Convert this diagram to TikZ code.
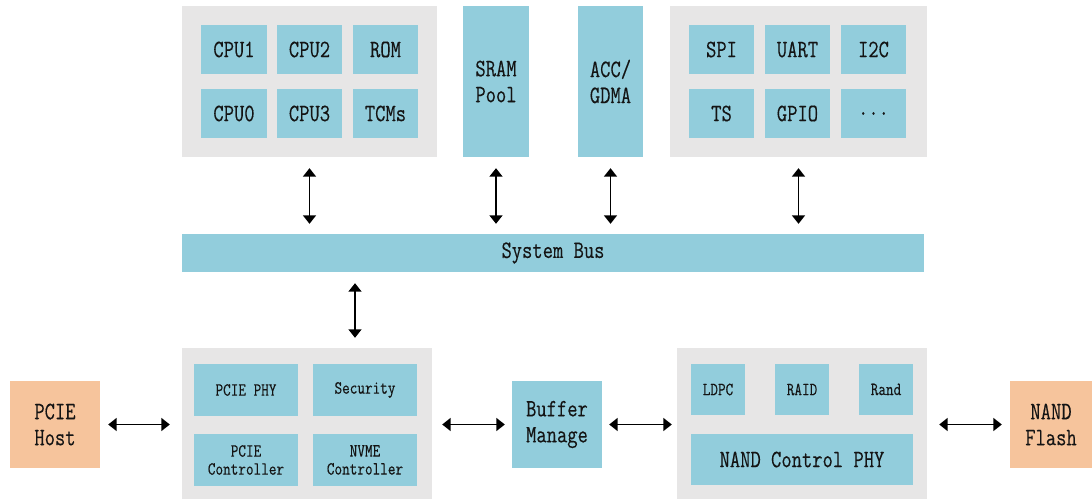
\documentclass[tikz,border=0pt]{standalone}
\usepackage{fontspec}
\setmonofont{Latin Modern Mono}[FakeStretch=0.8, FakeBold=0.3]
\usetikzlibrary{arrows.meta}
\definecolor{modgray}{HTML}{E7E6E6}
\definecolor{blockblue}{HTML}{92CDDC}
\definecolor{hostorange}{HTML}{F6C49C}
\definecolor{inkblack}{HTML}{141414}
\tikzset{
  sz/.style 2 args={minimum width=#1pt, minimum height=#2pt},
  panel/.style={fill=modgray, draw=none, inner sep=0pt},
  blk/.style={fill=blockblue, draw=none, inner sep=0pt, align=center, text=inkblack},
  ext/.style={fill=hostorange, draw=none, inner sep=0pt, align=center, text=inkblack},
  bigtxt/.style={font=\ttfamily\fontsize{25}{26}\selectfont},
  smalltxt/.style={font=\ttfamily\fontsize{18.5}{18}\selectfont},
  biarrow/.style={{Triangle[length=8.5pt,width=13pt]}-{Triangle[length=8.5pt,width=13pt]}, line width=1.8pt, draw=black},
}
\begin{document}
\begin{tikzpicture}[x=1pt,y=-1pt]
\useasboundingbox (0,0) rectangle (1092,500);

% processor cluster
\node[panel, sz={255}{151}] (cpus) at (309.5,81.5) {};
\node[blk, bigtxt, sz={66}{49}] (cpu1) at (234,49.5) {CPU1};
\node[blk, bigtxt, sz={65}{49}] (cpu2) at (309.5,49.5) {CPU2};
\node[blk, bigtxt, sz={65}{49}] (rom) at (385.5,49.5) {ROM};
\node[blk, bigtxt, sz={66}{49}] (cpu0) at (234,113.5) {CPU0};
\node[blk, bigtxt, sz={65}{49}] (cpu3) at (309.5,113.5) {CPU3};
\node[blk, bigtxt, sz={65}{49}] (tcms) at (385.5,113.5) {TCMs};

% memory and DMA
\node[blk, bigtxt, sz={66}{151}] (sram) at (496,81.5) {SRAM\\Pool};
\node[blk, bigtxt, sz={65}{151}] (acc) at (610.5,81.5) {ACC/\\GDMA};

% peripherals
\node[panel, sz={257}{151}] (peri) at (798.5,81.5) {};
\node[blk, bigtxt, sz={65}{49}] (spi) at (721.5,49.5) {SPI};
\node[blk, bigtxt, sz={65}{49}] (uart) at (797.5,49.5) {UART};
\node[blk, bigtxt, sz={65}{49}] (i2c) at (873.5,49.5) {I2C};
\node[blk, bigtxt, sz={65}{49}] (ts) at (721.5,113.5) {TS};
\node[blk, bigtxt, sz={65}{49}] (gpio) at (797.5,113.5) {GPIO};
\node[blk, bigtxt, sz={65}{49}] (more) at (873.5,113.5) {...};

% system bus
\node[blk, bigtxt, sz={742}{38}] (bus) at (553,253) {System Bus};

% host interface
\node[ext, bigtxt, sz={90}{87}] (host) at (55,424.5) {PCIE\\Host};
\node[panel, sz={250}{151}] (front) at (307,423.5) {};
\node[blk, smalltxt, sz={104}{52}] (pciephy) at (246,390) {PCIE PHY};
\node[blk, smalltxt, sz={104}{52}] (sec) at (365,390) {Security};
\node[blk, smalltxt, sz={104}{52}] (pciectl) at (246,460) {PCIE\\Controller};
\node[blk, smalltxt, sz={104}{52}] (nvme) at (365,460) {NVME\\Controller};

% buffer
\node[blk, bigtxt, sz={90}{87}] (buf) at (557,424.5) {Buffer\\Manage};

% flash back end
\node[panel, sz={250}{151}] (back) at (802,423.5) {};
\node[blk, smalltxt, sz={54}{51}] (ldpc) at (718,389.5) {LDPC};
\node[blk, smalltxt, sz={54}{51}] (raid) at (802,389.5) {RAID};
\node[blk, smalltxt, sz={54}{51}] (rand) at (886,389.5) {Rand};
\node[blk, bigtxt, sz={222}{51}] (nandphy) at (802,459.5) {NAND Control PHY};
\node[ext, bigtxt, sz={82}{87}] (flash) at (1051,424.5) {NAND\\Flash};

% bus connections
\draw[biarrow, shorten <=11pt, shorten >=10pt] (cpus.south) -- (bus.north -| cpus.south);
\draw[biarrow, shorten <=11pt, shorten >=10pt] (sram.south) -- (bus.north -| sram.south);
\draw[biarrow, shorten <=11pt, shorten >=10pt] (acc.south) -- (bus.north -| acc.south);
\draw[biarrow, shorten <=11pt, shorten >=10pt] (peri.south) -- (bus.north -| peri.south);
\coordinate (tap) at (355,272);
\draw[biarrow, shorten <=11pt, shorten >=10pt] (bus.south -| tap) -- (front.north -| tap);

% data path
\draw[biarrow, shorten <=8pt, shorten >=12pt] (host.east) -- (host.east -| front.west);
\draw[biarrow, shorten <=10pt, shorten >=7pt] (buf.west -| front.east) -- (buf.west);
\draw[biarrow, shorten <=7pt, shorten >=5pt] (buf.east) -- (buf.east -| back.west);
\draw[biarrow, shorten <=12pt, shorten >=8pt] (flash.west -| back.east) -- (flash.west);
\end{tikzpicture}
\end{document}
